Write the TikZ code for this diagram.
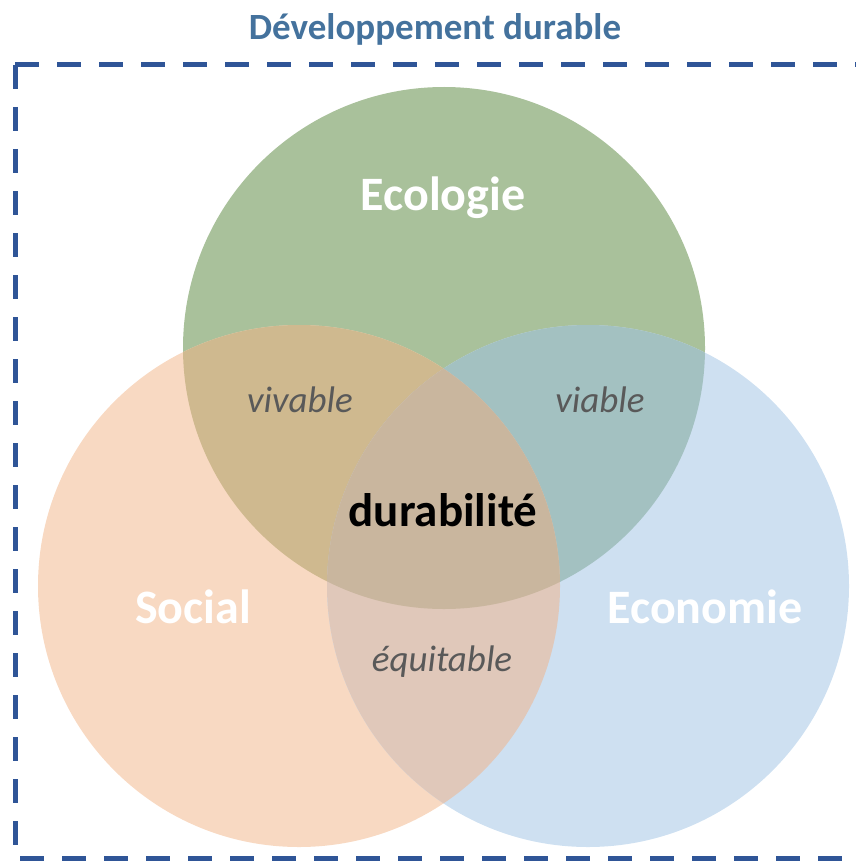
\documentclass[tikz,border=0pt]{standalone}
\usepackage{fontspec}
\setmainfont{Carlito}
\definecolor{ecoGreen}{HTML}{A9C19B}
\definecolor{socOrange}{HTML}{F8D9C2}
\definecolor{ecnBlue}{HTML}{CEE0F1}
\definecolor{vivColor}{HTML}{CFB98F}
\definecolor{viaColor}{HTML}{A3C1C1}
\definecolor{equColor}{HTML}{E0C8BA}
\definecolor{durColor}{HTML}{C9B69E}
\definecolor{frameBlue}{HTML}{2F5597}
\definecolor{titleBlue}{HTML}{44729D}
\definecolor{labelGrey}{HTML}{595959}
\begin{document}
\begin{tikzpicture}[x=1pt, y=-1pt,
  main label/.style={font=\fontsize{48}{56}\selectfont\bfseries, text=white},
  pair label/.style={font=\fontsize{37}{44}\selectfont\itshape, text=labelGrey},
  frame line/.style={draw=frameBlue, line width=5pt, dash pattern=on 24pt off 18pt}]
\useasboundingbox (0,0) rectangle (855,861);
\coordinate (eco) at (444,348);
\coordinate (soc) at (299,586);
\coordinate (ecn) at (588,586);
% circles
\begin{scope}
\fill[ecoGreen] (eco) circle[radius=261pt];
\fill[socOrange] (soc) circle[radius=261pt];
\fill[ecnBlue] (ecn) circle[radius=261pt];
\end{scope}
% overlaps
\begin{scope}
\clip (eco) circle[radius=261pt];
\fill[vivColor] (soc) circle[radius=261pt];
\fill[viaColor] (ecn) circle[radius=261pt];
\end{scope}
\begin{scope}
\clip (soc) circle[radius=261pt];
\fill[equColor] (ecn) circle[radius=261pt];
\clip (ecn) circle[radius=261pt];
\fill[durColor] (eco) circle[radius=261pt];
\end{scope}
% frame (right side lies outside the page)
\coordinate (tl) at (15,65);
\coordinate (bl) at (15,858);
\draw[frame line] (tl) -- (900,65);
\draw[frame line] (tl) -- (bl) -- (900,858);
\node[font=\fontsize{37}{44}\selectfont\bfseries, text=titleBlue] (title) at (435,29) {Développement durable};
% labels
\begin{scope}
\node[main label] (ecoL) at (443,198) {Ecologie};
\node[main label] (socL) at (193,607) {Social};
\node[main label] (ecnL) at (705,607) {Economie};
\node[pair label] (viv) at (300,400) {vivable};
\node[pair label] (via) at (600,400) {viable};
\node[pair label] (equ) at (442,662) {équitable};
\node[font=\fontsize{47}{55}\selectfont\bfseries] (dur) at (443,510) {durabilité};
\end{scope}
\end{tikzpicture}
\end{document}
